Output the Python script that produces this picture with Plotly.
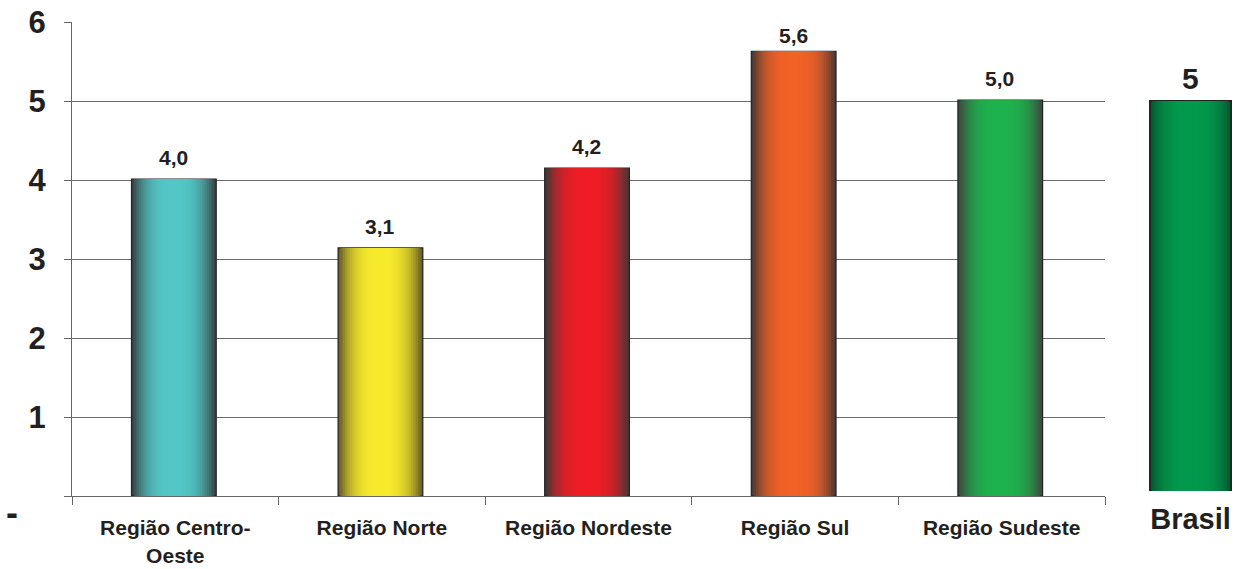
import plotly.graph_objects as go

# ---- data ----
regions = ["Região Centro-Oeste", "Região Norte", "Região Nordeste", "Região Sul", "Região Sudeste"]
region_labels = ["Região Centro-<br>Oeste", "Região Norte", "Região Nordeste", "Região Sul", "Região Sudeste"]
region_values = [4.01, 3.14, 4.15, 5.63, 5.01]
brasil_label = ["Brasil"]
brasil_value = [5.0]
y_ticks = [0, 1, 2, 3, 4, 5, 6]
y_tick_text = ["", "1", "2", "3", "4", "5", "6"]

# bar shading: (centre colour, edge colour)
region_colors = [
    ("#52C7C6", "#3A4545"),
    ("#F7E92C", "#6B6326"),
    ("#EE1D25", "#4B3636"),
    ("#F26126", "#4F3B35"),
    ("#1DB24D", "#3E4D40"),
]
brasil_colors = [("#03994C", "#045A31")]

W, H = 1234, 569
FONT = "Liberation Sans, Arial, Helvetica, sans-serif"
TXT = "#231F20"

# plot frame in pixels
PX_LEFT, PX_RIGHT = 72, 1105
PX_TOP, PX_ZERO = 22, 496
Y_MAX = 6


def mix(c1, c2, f):
    a = [int(c1[i:i + 2], 16) for i in (1, 3, 5)]
    b = [int(c2[i:i + 2], 16) for i in (1, 3, 5)]
    return "#%02x%02x%02x" % tuple(round(a[i] + (b[i] - a[i]) * f) for i in range(3))


def shaded_bars(fig, x, y, colors, width, xa, ya, shift=0.0, edge_w=1.2, layers=18):
    """Cylinder-like shading: overlaid bars, each narrower and closer to the centre colour."""
    for k in range(layers):
        t_out = 1 - k / layers
        t_mid = t_out - 0.5 / layers
        f = min(1.0, t_mid ** 3 * 1.15)
        cols = [mix(c, e, f) for c, e in colors]
        w = width * t_out
        fig.add_trace(go.Bar(
            x=x, y=y, width=w, offset=-w / 2 + shift,
            marker=dict(color=cols,
                        line=dict(color="#222222", width=edge_w if k == 0 else 0)),
            xaxis=xa, yaxis=ya, showlegend=False, hoverinfo="skip",
        ))


fig = go.Figure()
shaded_bars(fig, regions, region_values, region_colors, 0.41, "x", "y", shift=-0.007)
shaded_bars(fig, brasil_label, brasil_value, brasil_colors, 0.98, "x2", "y2", edge_w=2)

# value labels above the bars (kept inside the frame near the top)
px_per_unit = (PX_ZERO - PX_TOP) / Y_MAX
for r, v in zip(regions, region_values):
    bar_top = PX_ZERO - v * px_per_unit
    shift = max(0, min(8, bar_top - 49))
    fig.add_annotation(x=r, y=v, xref="x", yref="y", text=f"{v:.1f}".replace(".", ","),
                       showarrow=False, yanchor="bottom", yshift=shift, xshift=-2,
                       font=dict(family=FONT, size=21, color=TXT, weight="bold"))
for r, v in zip(brasil_label, brasil_value):
    fig.add_annotation(x=r, y=v, xref="x2", yref="y2", text=f"{v:.0f}",
                       showarrow=False, yanchor="bottom", yshift=4,
                       font=dict(family=FONT, size=30, color=TXT, weight="bold"))

# zero label of the value axis
fig.add_annotation(x=4 / W, y=1 - 535 / H, xref="paper", yref="paper", text="-",
                   showarrow=False, font=dict(family=FONT, size=36, color=TXT, weight="bold"))

fig.update_layout(
    template="none",
    width=W, height=H,
    margin=dict(l=0, r=0, t=0, b=0, autoexpand=False),
    paper_bgcolor="white", plot_bgcolor="white",
    barmode="overlay",
    separators=",.",
    showlegend=False,
    xaxis=dict(
        domain=[PX_LEFT / W, PX_RIGHT / W], anchor="y", automargin=False,
        type="category", categoryorder="array", categoryarray=regions,
        tickvals=regions, ticktext=region_labels, tickson="boundaries",
        ticks="outside", ticklen=8, tickcolor="#666",
        showline=True, linecolor="#666", linewidth=1,
        showgrid=False, zeroline=False, range=[-0.5, 4.5],
        tickfont=dict(family=FONT, size=21, color=TXT, weight="bold"),
        ticklabelstandoff=13,
    ),
    yaxis=dict(
        domain=[1 - PX_ZERO / H, 1 - PX_TOP / H], anchor="x", automargin=False,
        range=[0, Y_MAX], tickvals=y_ticks, ticktext=y_tick_text,
        ticks="outside", ticklen=7, tickcolor="#666",
        showline=True, linecolor="#666", linewidth=1,
        showgrid=True, gridcolor="#6a6a6a", gridwidth=1, zeroline=False,
        tickfont=dict(family=FONT, size=31, color=TXT, weight="bold"),
        ticklabelstandoff=12,
    ),
    xaxis2=dict(
        domain=[1149 / W, 1232 / W], anchor="y2", automargin=False,
        type="category", range=[-0.5, 0.5],
        showline=False, ticks="", showgrid=False, zeroline=False,
        tickfont=dict(family=FONT, size=29, color=TXT, weight="bold"),
        ticklabelstandoff=8,
    ),
    yaxis2=dict(
        domain=[1 - 491 / H, 1 - 23 / H], anchor="x2", automargin=False,
        range=[0, Y_MAX], visible=False,
    ),
)

fig.write_html("out.html")
